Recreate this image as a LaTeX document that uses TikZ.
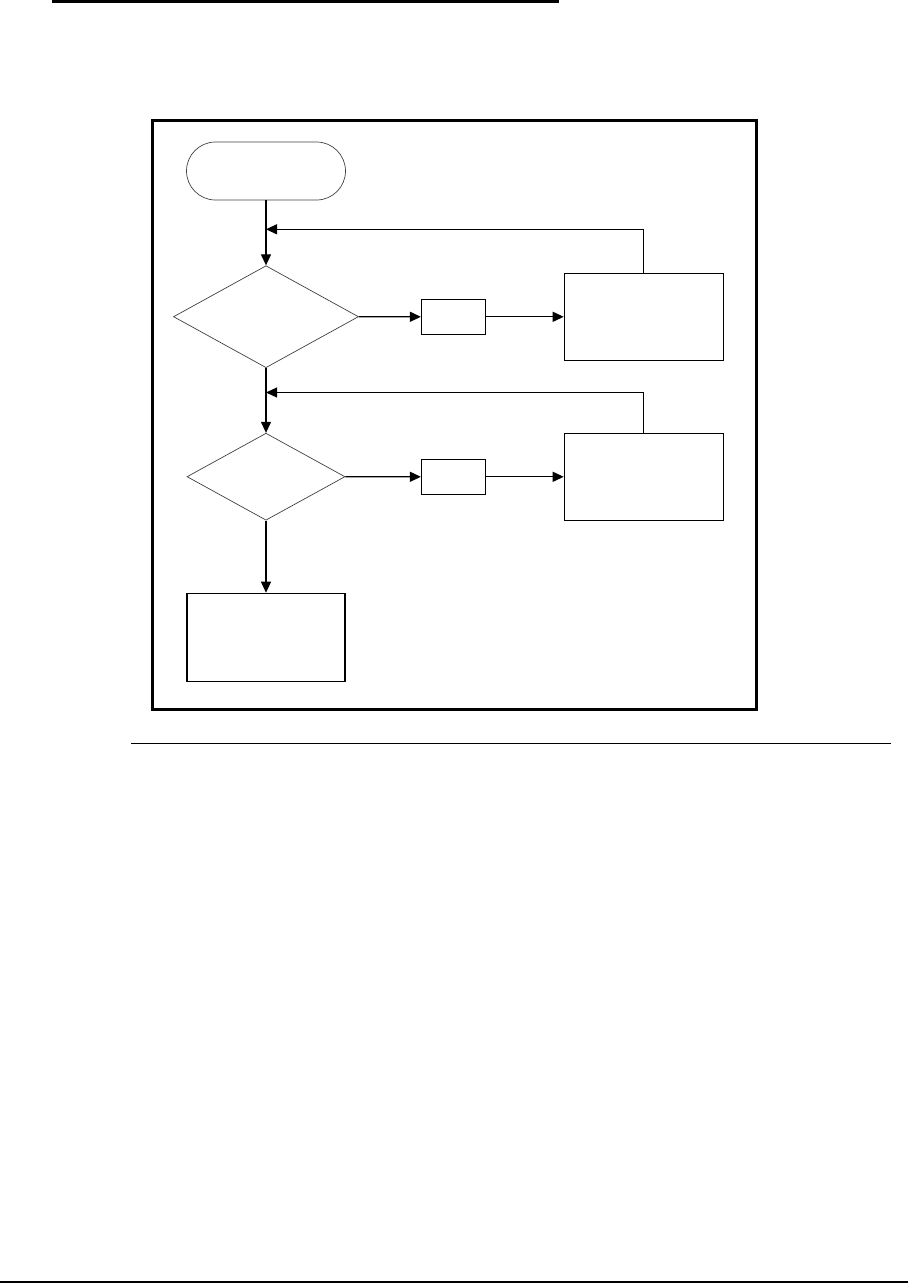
\documentclass[tikz,border=0pt]{standalone}
\usepackage{tikz}
\usetikzlibrary{calc,shapes.geometric,arrows.meta}

\tikzset{
  procbox/.style={draw=black,line width=1.2pt,rectangle,inner sep=0pt},
  decbox/.style={draw=black!75,line width=0.7pt,diamond,inner sep=0pt},
  startbox/.style={draw=black!75,line width=0.7pt,rectangle,rounded corners=29pt,inner sep=0pt},
  flow/.style={line width=1.2pt,-{Triangle[length=11pt,width=10pt]}}
}

\begin{document}
\begin{tikzpicture}[x=1pt,y=-1pt]
\pgfmathsetmacro{\cx}{266} % main column
\useasboundingbox (0,0) rectangle (908,1283);

% page rules
\draw[line width=2.6pt] (52,1.3) -- (559,1.3);
\draw[line width=1.2pt] (131,743.3) -- (891,743.3);
\draw[line width=1.6pt] (0,1282) -- (908,1282);

% frame round the chart
\draw[line width=3pt] (152.7,120) rectangle (756.7,709);

% main column
\node[startbox,minimum width=159pt,minimum height=58pt] (start) at (\cx,171) {};
\node[decbox,minimum width=185pt,minimum height=102pt] (dec1) at (\cx,316.7) {};
\node[decbox,minimum width=158pt,minimum height=87pt] (dec2) at (\cx,476.7) {};
\node[procbox,minimum width=158pt,minimum height=88pt] (stop) at (\cx,637.3) {};

% side branches
\foreach \y [count=\i] in {316.8,476.8}
{
\node[procbox,minimum width=64pt,minimum height=35pt] (small\i) at (453.5,\y) {};
\node[procbox,minimum width=159pt,minimum height=87pt] (big\i) at (643.8,\y) {};
}

% return points on the main column
\coordinate (back1) at (\cx,229.3);
\coordinate (back2) at (\cx,392.5);

% connectors
\draw[flow] (start.south) -- (dec1.north);
\draw[flow] (dec1.south) -- (dec2.north);
\draw[flow] (dec2.south) -- (stop.north);
\foreach \i in {1,2}
{
\draw[flow] (dec\i.east) -- (small\i.west);
\draw[flow] (small\i.east) -- (big\i.west);
\draw[flow] (big\i.north) |- (back\i);
}
\end{tikzpicture}
\end{document}
